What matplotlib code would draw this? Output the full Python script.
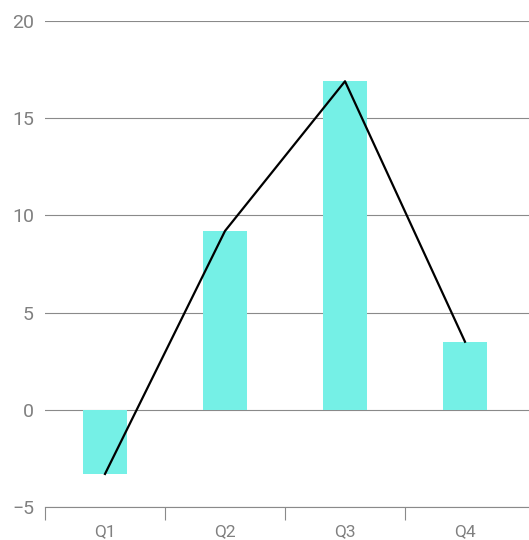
import matplotlib
matplotlib.use("Agg")
import matplotlib.pyplot as plt

# data
quarters = ['Q1', 'Q2', 'Q3', 'Q4']
bar_values = [-3.3, 9.2, 16.9, 3.5]
line_values = [-3.3, 9.2, 16.9, 3.5]
y_ticks = [-5, 0, 5, 10, 15, 20]

plt.rcParams['font.family'] = ['Roboto', 'DejaVu Sans']
grey = '#8a8a8a'

fig = plt.figure(figsize=(5.29, 5.40), dpi=100)
ax = fig.add_axes([45 / 529, 1 - 507 / 540, 484 / 529, 486 / 540])

x = list(range(len(quarters)))
ax.bar(x, bar_values, width=0.37, color='#75f0e6', zorder=2)
ax.plot(x, line_values, color='black', linewidth=1.6, zorder=3)

ax.set_xlim(-0.5, 3.5 + 4 / 120)
ax.set_ylim(-5, 20)
ax.set_yticks(y_ticks)
ax.set_yticklabels([str(t).replace('-', '\u2212') for t in y_ticks])
ax.yaxis.grid(True, color=grey, linewidth=0.8, zorder=1)
ax.set_axisbelow(True)

ax.set_xticks(x)
ax.set_xticklabels(quarters)
ax.set_xticks([-0.5, 0.5, 1.5, 2.5], minor=True)
ax.tick_params(axis='x', which='major', length=0, pad=12, labelsize=12.5, colors='#808080')
ax.tick_params(axis='x', which='minor', length=9, width=0.8, color=grey)
ax.tick_params(axis='y', length=0, pad=8, labelsize=14, colors='#808080')

for s in ['top', 'right', 'left']:
    ax.spines[s].set_visible(False)
ax.spines['bottom'].set_color(grey)
ax.spines['bottom'].set_linewidth(0.8)

fig.savefig('out.png', dpi=100)
